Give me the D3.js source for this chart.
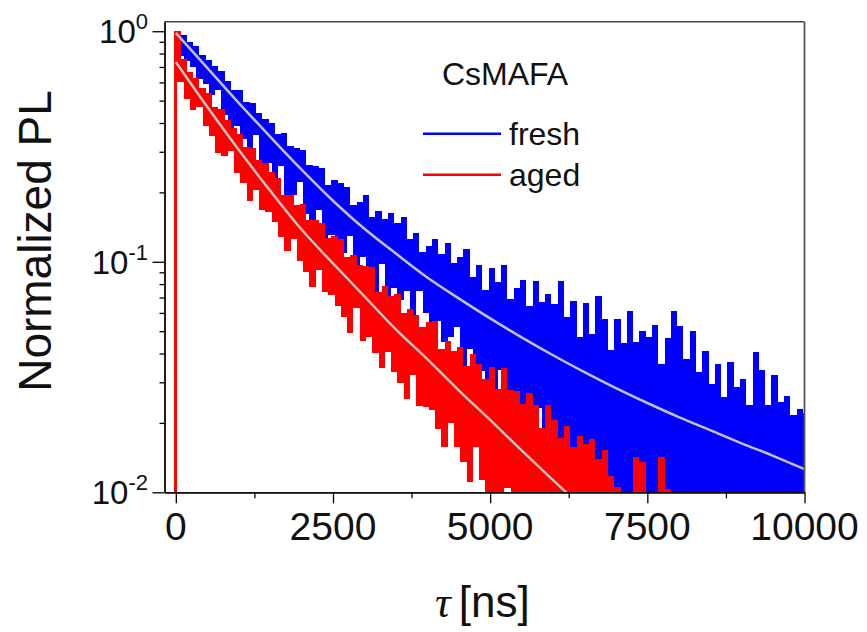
<!DOCTYPE html>
<html>
<head>
<meta charset="utf-8">
<script src="https://cdn.jsdelivr.net/npm/d3@7"></script>
<style>
  body { margin: 0; background: #fff; }
  text { font-family: "Liberation Sans", Arial, sans-serif; fill: #111; }
</style>
</head>
<body>
<div id="viz"></div>
<script>
// time grid of the decay traces (ns), 50 ns bins starting before the pulse
const tStep = 50;
const tStart = -200;

// normalized PL (values below 1e-2 fall under the axis)
const freshPL = [
  0.002, 0.003, 0.002, 0.003,
  1.0, 0.78, 0.96, 0.74, 0.90, 0.70, 0.86, 0.62, 0.79, 0.59,
  0.75, 0.53, 0.71, 0.555, 0.675, 0.432, 0.611, 0.379, 0.555, 0.387,
  0.555, 0.34, 0.495, 0.295, 0.49, 0.356, 0.443, 0.248, 0.418, 0.269,
  0.40, 0.228, 0.36, 0.26, 0.361, 0.192, 0.319, 0.195, 0.312, 0.221,
  0.304, 0.161, 0.264, 0.145, 0.261, 0.168, 0.256, 0.123, 0.216, 0.131,
  0.226, 0.126, 0.219, 0.109, 0.212, 0.129, 0.177, 0.0933, 0.181, 0.105,
  0.194, 0.0856, 0.156, 0.0742, 0.166, 0.0975, 0.154, 0.0705, 0.163, 0.077,
  0.148, 0.068, 0.157, 0.0745, 0.126, 0.058, 0.133, 0.075, 0.11, 0.06,
  0.117, 0.055, 0.126, 0.0553, 0.108, 0.045, 0.121, 0.047, 0.099, 0.052,
  0.105, 0.0326, 0.114, 0.042, 0.0857, 0.0259, 0.097, 0.0335, 0.0758, 0.0277,
  0.0943, 0.0243, 0.082, 0.0339, 0.0968, 0.0188, 0.0687, 0.0165, 0.077, 0.0229,
  0.0836, 0.0164, 0.0642, 0.0128, 0.0825, 0.0231, 0.0669, 0.0119, 0.0725, 0.0142,
  0.0658, 0.0095, 0.0824, 0.0078, 0.0576, 0.0112, 0.0676, 0.0082, 0.0473, 0.0088,
  0.0664, 0.0072, 0.0487, 0.0085, 0.0712, 0.0069, 0.0562, 0.0093, 0.0413, 0.0066,
  0.0566, 0.0081, 0.0446, 0.0075, 0.0611, 0.0088, 0.045, 0.0068, 0.0502, 0.0091,
  0.0474, 0.0077, 0.0533, 0.0089, 0.0359, 0.0072, 0.0468, 0.0083, 0.061, 0.0069,
  0.0528, 0.0086, 0.0378, 0.0074, 0.050, 0.0093, 0.0334, 0.0068, 0.0409, 0.008,
  0.0294, 0.0077, 0.0359, 0.0087, 0.0259, 0.0071, 0.0368, 0.0094, 0.0286, 0.0075,
  0.031, 0.0082, 0.0238, 0.0069, 0.0408, 0.0091, 0.0338, 0.0076, 0.024, 0.0084,
  0.0323, 0.0073, 0.0246, 0.0088, 0.0261, 0.0078, 0.0216, 0.0069, 0.0229, 0.0085,
  0.022
];

const agedPL = [
  0.002, 0.003, 0.002, 0.003,
  1.0, 0.60, 0.755, 0.51, 0.667, 0.456, 0.63, 0.468, 0.57, 0.39,
  0.54, 0.351, 0.468, 0.297, 0.461, 0.288, 0.411, 0.303, 0.382, 0.242,
  0.36, 0.22, 0.316, 0.184, 0.31, 0.205, 0.276, 0.167, 0.268, 0.164,
  0.245, 0.149, 0.23, 0.128, 0.194, 0.111, 0.194, 0.126, 0.176, 0.101,
  0.178, 0.0902, 0.152, 0.078, 0.152, 0.092, 0.148, 0.0736, 0.127, 0.0716,
  0.13, 0.0643, 0.125, 0.0576, 0.105, 0.0493, 0.107, 0.0628, 0.0969, 0.0452,
  0.0955, 0.0474, 0.0949, 0.0404, 0.0742, 0.0345, 0.0784, 0.0407, 0.0712, 0.0332,
  0.0726, 0.0298, 0.0601, 0.0254, 0.0624, 0.0324, 0.0588, 0.0237, 0.0519, 0.0235,
  0.0546, 0.0227, 0.0552, 0.0189, 0.0417, 0.0158, 0.0454, 0.020, 0.0411, 0.0157,
  0.0429, 0.0135, 0.0354, 0.0111, 0.0398, 0.0158, 0.0359, 0.0113, 0.0311, 0.0099,
  0.035, 0.0095, 0.0281, 0.0082, 0.0345, 0.0104, 0.0277, 0.0078, 0.0275, 0.0088,
  0.0241, 0.0074, 0.0269, 0.0086, 0.024, 0.0068, 0.0191, 0.0079, 0.0239, 0.0071,
  0.0205, 0.0065, 0.0172, 0.0074, 0.0193, 0.006, 0.0158, 0.0071, 0.0176, 0.0063,
  0.0162, 0.0058, 0.0171, 0.0066, 0.0139, 0.0052, 0.0152, 0.0061, 0.0118, 0.0049,
  0.0105, 0.0048, 0.0093, 0.0052, 0.0088, 0.0045, 0.0142, 0.0055, 0.0136, 0.0047,
  0.0092, 0.0041, 0.0084, 0.0045, 0.0142, 0.0043, 0.0103, 0.0038, 0.0078, 0.004,
  0.003
];

// fitted decays (light gray curves), sampled every 500 ns
const fitTimes = [0, 500, 1000, 1500, 2000, 2500, 3000, 3500, 4000, 4500, 5000,
                  5500, 6000, 6500, 7000, 7500, 8000, 8500, 9000, 9500, 10000];
const fitFresh = [0.983, 0.694, 0.489, 0.349, 0.251, 0.184, 0.139, 0.1086, 0.0855, 0.0694, 0.0568,
                  0.047, 0.0393, 0.0332, 0.0283, 0.0244, 0.0212, 0.0186, 0.0163, 0.0144, 0.0126];
const fitAged = [0.736, 0.47, 0.306, 0.2035, 0.138, 0.0984, 0.0708, 0.0509, 0.0378, 0.0277, 0.0206,
                 0.0152, 0.0113, 0.00847];

const xMajor = [0, 2500, 5000, 7500, 10000];
const xMinor = [1250, 3750, 6250, 8750];
const yMajor = [1, 0.1, 0.01];
const yMajorExp = ['0', '-1', '-2'];
const yMinor = [0.02, 0.03, 0.04, 0.05, 0.06, 0.07, 0.08, 0.09,
                0.2, 0.3, 0.4, 0.5, 0.6, 0.7, 0.8, 0.9];

const seriesNames = ['fresh', 'aged'];
const seriesColors = ['#0000ff', '#ff0000'];

const W = 867, H = 632;
const plotL = 164.5, plotR = 804.5, plotT = 21.7, plotB = 492.3;

const svg = d3.select('#viz').append('svg')
  .attr('width', W)
  .attr('height', H);

const x = d3.scaleLinear().domain([-180, 10000]).range([plotL, plotR]);
const y = d3.scaleLog().domain([0.01, 1.1]).range([plotB, plotT]);

svg.append('defs').append('clipPath').attr('id', 'plot-clip')
  .append('rect')
  .attr('x', plotL).attr('y', plotT)
  .attr('width', plotR - plotL).attr('height', plotB - plotT);

const plot = svg.append('g').attr('clip-path', 'url(#plot-clip)');

// the traces are dense noise: each bin is filled between its value and the next one
function binPairs(arr) {
  return d3.pairs(arr).map(([a, b], i) => ({
    t0: tStart + (i + 0.5) * tStep,
    t1: tStart + (i + 1.5) * tStep,
    lo: Math.min(a, b),
    hi: Math.max(a, b)
  }));
}

[freshPL, agedPL].forEach((arr, k) => {
  plot.append('g')
    .selectAll('rect')
    .data(binPairs(arr))
    .join('rect')
    .attr('x', d => x(d.t0))
    .attr('width', d => x(d.t1) - x(d.t0))
    .attr('y', d => y(d.hi))
    .attr('height', d => y(d.lo) - y(d.hi))
    .attr('fill', seriesColors[k])
    .attr('shape-rendering', 'crispEdges');
});

const fitLine = d3.line()
  .x((d, i) => x(fitTimes[i]))
  .y(d => y(d))
  .curve(d3.curveMonotoneX);

[fitFresh, fitAged].forEach(arr => {
  plot.append('path')
    .datum(arr)
    .attr('d', fitLine)
    .attr('fill', 'none')
    .attr('stroke', '#c0c0c0')
    .attr('stroke-width', 2.5);
});

// frame: top and right in dark gray
svg.append('line').attr('x1', plotL).attr('x2', plotR).attr('y1', plotT).attr('y2', plotT)
  .attr('stroke', '#444').attr('stroke-width', 1.5);
svg.append('line').attr('x1', plotR).attr('x2', plotR).attr('y1', plotT).attr('y2', plotB)
  .attr('stroke', '#555').attr('stroke-width', 1.8);

// axes: major and minor ticks drawn separately since sizes differ
function styleAxis(g) {
  g.select('.domain').attr('stroke', '#000').attr('stroke-width', 1.3);
  g.selectAll('.tick line').attr('stroke', '#000').attr('stroke-width', 1.3);
  g.selectAll('.tick text').remove();
}

svg.append('g')
  .attr('transform', `translate(0,${plotB})`)
  .call(d3.axisBottom(x).tickValues(xMinor).tickSize(6).tickSizeOuter(0))
  .call(styleAxis);
svg.append('g')
  .attr('transform', `translate(0,${plotB})`)
  .call(d3.axisBottom(x).tickValues(xMajor).tickSize(11).tickSizeOuter(0))
  .call(styleAxis);

svg.append('g')
  .attr('transform', `translate(${plotL},0)`)
  .call(d3.axisLeft(y).tickValues(yMinor).tickSize(5).tickSizeOuter(0))
  .call(styleAxis);
svg.append('g')
  .attr('transform', `translate(${plotL},0)`)
  .call(d3.axisLeft(y).tickValues(yMajor).tickSize(12).tickSizeOuter(0))
  .call(styleAxis);

// x tick labels
svg.selectAll('.xlab')
  .data(xMajor)
  .join('text')
  .attr('class', 'xlab')
  .attr('x', d => x(d))
  .attr('y', plotB + 48)
  .attr('text-anchor', 'middle')
  .style('font-size', '39px')
  .text(d => d);

// y tick labels 10^n
const ylab = svg.selectAll('.ylab')
  .data(yMajor)
  .join('text')
  .attr('class', 'ylab')
  .attr('x', 148)
  .attr('y', d => y(d) + 12)
  .attr('text-anchor', 'end')
  .style('font-size', '33px');
ylab.append('tspan').text('10');
ylab.append('tspan')
  .attr('dy', -14)
  .style('font-size', '22px')
  .text((d, i) => yMajorExp[i]);

// axis titles
svg.append('text')
  .attr('transform', `translate(51,241) rotate(-90)`)
  .attr('text-anchor', 'middle')
  .style('font-size', '46px')
  .text('Normalized PL');

const xt = svg.append('text')
  .attr('x', 435)
  .attr('y', 617)
  .style('font-size', '44px');
xt.append('tspan')
  .style('font-family', '"Liberation Serif", "Times New Roman", serif')
  .style('font-style', 'italic')
  .text('τ');
xt.append('tspan').attr('dx', 8).text('[ns]');

// legend
svg.append('text')
  .attr('x', 505)
  .attr('y', 85)
  .attr('text-anchor', 'middle')
  .style('font-size', '32px')
  .text('CsMAFA');

const legendY = [133.7, 174.7];
seriesNames.forEach((name, i) => {
  svg.append('line')
    .attr('x1', 423).attr('x2', 501)
    .attr('y1', legendY[i]).attr('y2', legendY[i])
    .attr('stroke', seriesColors[i])
    .attr('stroke-width', 2.6);
  svg.append('text')
    .attr('x', 509)
    .attr('y', legendY[i] + 11)
    .style('font-size', '32px')
    .text(name);
});
</script>
</body>
</html>
